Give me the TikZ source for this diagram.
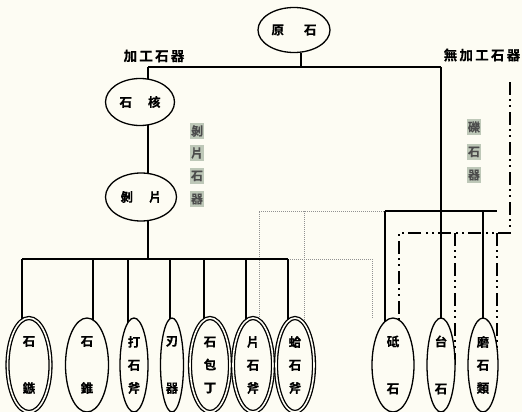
\documentclass[tikz,border=0pt]{standalone}
\usepackage{fontspec}
\newfontfamily\cjk{Noto Sans CJK TC Bold}[FakeBold=0.4]
\usetikzlibrary{shapes.geometric,backgrounds}
\definecolor{bgc}{RGB}{253,252,243}
\definecolor{hl}{RGB}{190,200,184}
\definecolor{gl}{RGB}{145,145,145}
\tikzset{
  ell/.style={ellipse, draw, fill=bgc, line width=1.3pt, inner sep=0pt, align=center,
    font=\cjk\fontsize{12.5}{23}\selectfont},
  dbl/.style={double=bgc, double distance=1.6pt, line width=1.3pt},
  main/.style={line width=2.2pt},
  gry/.style={gl, line width=1pt, densely dotted},
  dd/.style={line width=2.2pt, dash pattern=on 13pt off 4pt on 2pt off 4pt on 2pt off 5pt},
  hlchar/.style={fill=hl, inner sep=1.2pt, minimum width=14pt, minimum height=16pt,
    text=black!70, font=\cjk\fontsize{12}{12}\selectfont},
  lab/.style={font=\cjk\fontsize{13.5}{14}\selectfont},
}
\begin{document}
\begin{tikzpicture}[x=1pt,y=-1pt]
\useasboundingbox (0,0) rectangle (522,412);
% top nodes
\node[ell, minimum width=72pt, minimum height=45pt] (yuan) at (294,30) {原\hspace{20pt}石};
\node[ell, minimum width=69pt, minimum height=47pt] (hexin) at (140,102) {石\hspace{16pt}核};
\node[ell, minimum width=71pt, minimum height=48pt] (bopian) at (141,197) {剝\hspace{16pt}片};
% labels
\node[lab] (jiagong) at (154,56) {加\,工\,石\,器};
\node[lab] (wujiagong) at (482,55) {無\,加\,工\,石\,器};
% highlighted vertical labels
\node[hlchar] (h1) at (197,131) {剝};
\node[hlchar] (h2) at (197,153) {片};
\node[hlchar] (h3) at (197,176) {石};
\node[hlchar] (h4) at (197,199) {器};
\node[hlchar] (r1) at (474,127) {礫};
\node[hlchar] (r2) at (474,152) {石};
\node[hlchar] (r3) at (474,175) {器};
% bottom nodes
\node[ell, dbl, minimum width=43pt, minimum height=94pt] (shizu) at (29,365) {石\\[24pt]鏃};
\node[ell, minimum width=43pt, minimum height=94pt] (shizhui) at (87,365) {石\\[24pt]錐};
\node[ell, minimum width=28pt, minimum height=94pt] (dashi) at (134,365) {打\\石\\斧};
\node[ell, minimum width=23pt, minimum height=94pt] (renqi) at (172,365) {刃\\[24pt]器};
\node[ell, dbl, minimum width=40pt, minimum height=94pt] (baoding) at (210,365) {石\\包\\丁};
\node[ell, dbl, minimum width=40pt, minimum height=94pt] (pianshi) at (253,365) {片\\石\\斧};
\node[ell, dbl, minimum width=38pt, minimum height=94pt] (geshi) at (295,365) {蛤\\石\\斧};
\node[ell, minimum width=42pt, minimum height=94pt] (dishi) at (393,365) {砥\\[24pt]石};
\node[ell, minimum width=28pt, minimum height=94pt] (taishi) at (441,365) {台\\[24pt]石};
\node[ell, minimum width=30pt, minimum height=94pt] (moshi) at (483,365) {磨\\石\\類};
% coordinates
\coordinate (jL) at (148,67);
\coordinate (jR) at (441,67);
\coordinate (bL) at (22,259);
\coordinate (bR) at (288,259);
\coordinate (rb1) at (385,211);
\coordinate (rb2) at (497,211);
\coordinate (dt) at (510,82);
\coordinate (dc) at (510,233);
\coordinate (dl) at (399,233);
\coordinate (gEnd) at (372,318);
\begin{scope}[on background layer]
\fill[bgc] (0,0) rectangle (522,412);
% gray dotted links
\draw[gry] (bR) -- (bR -| gEnd) -- (gEnd);
\draw[gry] (259,0 |- pianshi.center) -- (259,211) -- (rb1);
\draw[gry] (304,211) -- (304,0 |- geshi.center);
% main tree
\draw[main] ([xshift=7pt]yuan.south) -- ([xshift=7pt]yuan.south |- jL);
\draw[main] (jL) -- (jR);
\draw[main] (jL) -- (jL |- hexin.center);
\draw[main] (jL |- hexin.center) -- (jL |- bopian.center);
\draw[main] (jL |- bopian.center) -- (jL |- bL);
\draw[main] (bL) -- (bR);
\draw[main] (bL) -- (bL |- shizu.center);
\draw[main] (93,259) -- (93,0 |- shizhui.center);
\draw[main] (128,259) -- (128,0 |- dashi.center);
\draw[main] (170,259) -- (170,0 |- renqi.center);
\draw[main] (204,259) -- (204,0 |- baoding.center);
\draw[main] (246,259) -- (246,0 |- pianshi.center);
\draw[main] (bR) -- (bR |- geshi.center);
% right group
\draw[main] (jR) -- (jR |- taishi.center);
\draw[main] (rb1) -- (rb2);
\draw[main] (rb1) -- (rb1 |- dishi.center);
\draw[main] (483,211) -- (483,0 |- moshi.center);
% dash-dot group
\draw[dd] (dt) -- (dc) -- (dl) -- (dl |- dishi.center);
\draw[dd] (455,233) -- (455,0 |- taishi.center);
\draw[dd] (497,233) -- (497,0 |- moshi.center);
\end{scope}
\end{tikzpicture}
\end{document}
